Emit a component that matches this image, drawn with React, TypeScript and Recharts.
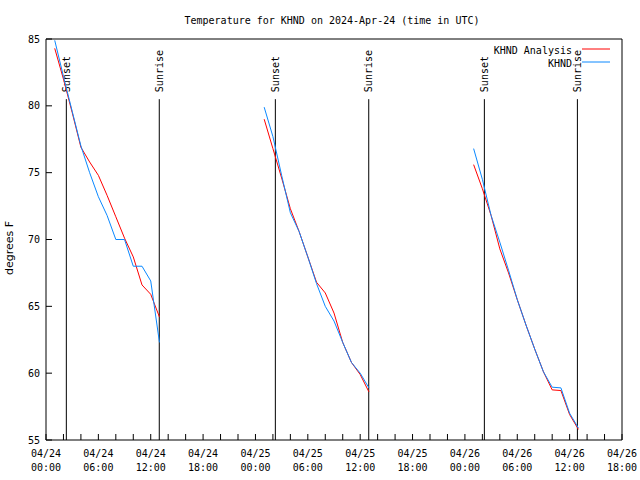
import { LineChart, Line, XAxis, YAxis, ReferenceLine, Legend } from "recharts";

// hours since 2024-04-24 00:00 UTC (null rows break the line between nights)
const hours = [
  1, 2, 3, 4, 5, 6, 7, 8, 9, 10, 11, 12, 13, 19,
  25, 26, 27, 28, 29, 30, 31, 32, 33, 34, 35, 36, 37, 43,
  49, 50, 51, 52, 53, 54, 55, 56, 57, 58, 59, 60, 61,
];

const analysisTemps = [
  84.3, 82.0, 79.5, 76.9, 75.8, 74.8, 73.3, 71.7, 70.1, 68.7, 66.6, 65.9, 64.2, null,
  79.0, 76.8, 74.6, 72.3, 70.6, 68.7, 66.8, 66.0, 64.5, 62.3, 60.8, 59.9, 58.6, null,
  75.6, 73.8, 71.8, 69.3, 67.5, 65.5, 63.6, 61.8, 60.1, 58.75, 58.7, 56.9, 55.8,
];

const khndTemps = [
  84.9, 82.2, 79.6, 77.0, 75.0, 73.2, 71.8, 70.0, 70.0, 68.0, 68.0, 66.9, 62.3, null,
  79.9, 77.7, 74.8, 72.0, 70.6, 68.7, 66.7, 65.0, 63.9, 62.3, 60.8, 60.0, 58.9, null,
  76.8, 74.5, 71.8, 69.8, 67.7, 65.5, 63.6, 61.8, 60.1, 58.95, 58.9, 57.0, 55.9,
];

const seriesNames = ["KHND Analysis", "KHND"];

const sunLabels = ["Sunset", "Sunrise", "Sunset", "Sunrise", "Sunset", "Sunrise"];
const sunHours = [2.33, 12.98, 26.28, 36.98, 50.23, 60.89];

const xTicks = [
  0, 2, 4, 6, 8, 10, 12, 14, 16, 18, 20, 22, 24, 26, 28, 30, 32,
  34, 36, 38, 40, 42, 44, 46, 48, 50, 52, 54, 56, 58, 60, 62, 64, 66,
];
const yTicks = [55, 60, 65, 70, 75, 80, 85];

const rows = hours.map((h, i) => ({ h, analysis: analysisTemps[i], khnd: khndTemps[i] }));

const MONO = "'DejaVu Sans Mono', monospace";
const sunLineTop = 80.5;

const pad = (n: number) => (n < 10 ? "0" + n : "" + n);

const XTick = (props: any) => {
  const { x, y, payload } = props;
  const h = payload.value;
  if (h % 6 !== 0) return <g />;
  const day = 24 + Math.floor(h / 24);
  return (
    <text x={x} y={y} textAnchor="middle" fontFamily={MONO} fontSize={10} fill="#000">
      <tspan x={x} dy={17}>{"04/" + day}</tspan>
      <tspan x={x} dy={14}>{pad(h % 24) + ":00"}</tspan>
    </text>
  );
};

const sunLabel = (text: string) => (props: any) => {
  const { x, y } = props.viewBox;
  const ty = y - 7;
  return (
    <text
      x={x}
      y={ty}
      dy="0.35em"
      transform={`rotate(-90 ${x} ${ty})`}
      fontFamily={MONO}
      fontSize={10}
      fill="#000"
    >
      {text}
    </text>
  );
};

const renderLegend = (props: any) => {
  // keep the gnuplot key order (not alphabetical)
  const items = [...props.payload].sort(
    (a: any, b: any) => seriesNames.indexOf(a.value) - seriesNames.indexOf(b.value)
  );
  return (
    <svg width={640} height={80} style={{ display: "block", overflow: "visible" }}>
      {items.map((e: any, i: number) => (
        <g key={e.value}>
          <text x={572} y={54 + i * 13} textAnchor="end" fontFamily={MONO} fontSize={10} fill="#000">
            {e.value}
          </text>
          <line x1={582} x2={610} y1={49 + i * 13} y2={49 + i * 13} stroke={e.color} />
        </g>
      ))}
    </svg>
  );
};

export default function App() {
  return (
    <div style={{ position: "absolute", left: 0, top: 0, width: 640, height: 480, background: "#fff" }}>
      <LineChart width={640} height={480} data={rows} margin={{ top: 9, right: 0, bottom: 0, left: 0 }}>
        <text x={332} y={24} textAnchor="middle" fontFamily={MONO} fontSize={10} fill="#000">
          Temperature for KHND on 2024-Apr-24 (time in UTC)
        </text>
        <text
          x={13}
          y={248}
          textAnchor="middle"
          transform="rotate(-90 13 248)"
          fontFamily="'DejaVu Sans', sans-serif"
          fontSize={11}
          fill="#000"
        >
          degrees F
        </text>
        <XAxis
          dataKey="h"
          type="number"
          domain={[0, 66]}
          ticks={xTicks}
          interval={0}
          height={40}
          stroke="#000"
          tickSize={-6}
          tickMargin={6}
          tick={<XTick />}
        />
        <XAxis
          xAxisId="top"
          orientation="top"
          type="number"
          domain={[0, 66]}
          ticks={xTicks}
          interval={0}
          height={30}
          stroke="#000"
          tickSize={-6}
          tick={false}
        />
        <YAxis
          type="number"
          domain={[55, 85]}
          ticks={yTicks}
          interval={0}
          width={46}
          stroke="#000"
          tickSize={-6}
          tickMargin={12}
          tick={{ fill: "#000", fontSize: 10, fontFamily: MONO }}
        />
        <YAxis
          yAxisId="right"
          orientation="right"
          type="number"
          domain={[55, 85]}
          ticks={yTicks}
          interval={0}
          width={18}
          stroke="#000"
          tickSize={-6}
          tick={false}
        />
        {sunHours.map((h, i) => (
          <ReferenceLine
            key={i}
            segment={[{ x: h, y: sunLineTop }, { x: h, y: 55 }]}
            stroke="#000"
            strokeWidth={1}
            label={sunLabel(sunLabels[i])}
          />
        ))}
        <Legend
          content={renderLegend}
          layout="horizontal"
          verticalAlign="middle"
          align="center"
          wrapperStyle={{ position: "absolute", left: 0, top: 0, width: 640, height: 80, pointerEvents: "none" }}
        />
        <Line
          name={seriesNames[0]}
          dataKey="analysis"
          stroke="#ff0000"
          strokeWidth={1}
          dot={false}
          type="linear"
          isAnimationActive={false}
        />
        <Line
          name={seriesNames[1]}
          dataKey="khnd"
          stroke="#0a88ff"
          strokeWidth={1}
          dot={false}
          type="linear"
          isAnimationActive={false}
        />
      </LineChart>
    </div>
  );
}
